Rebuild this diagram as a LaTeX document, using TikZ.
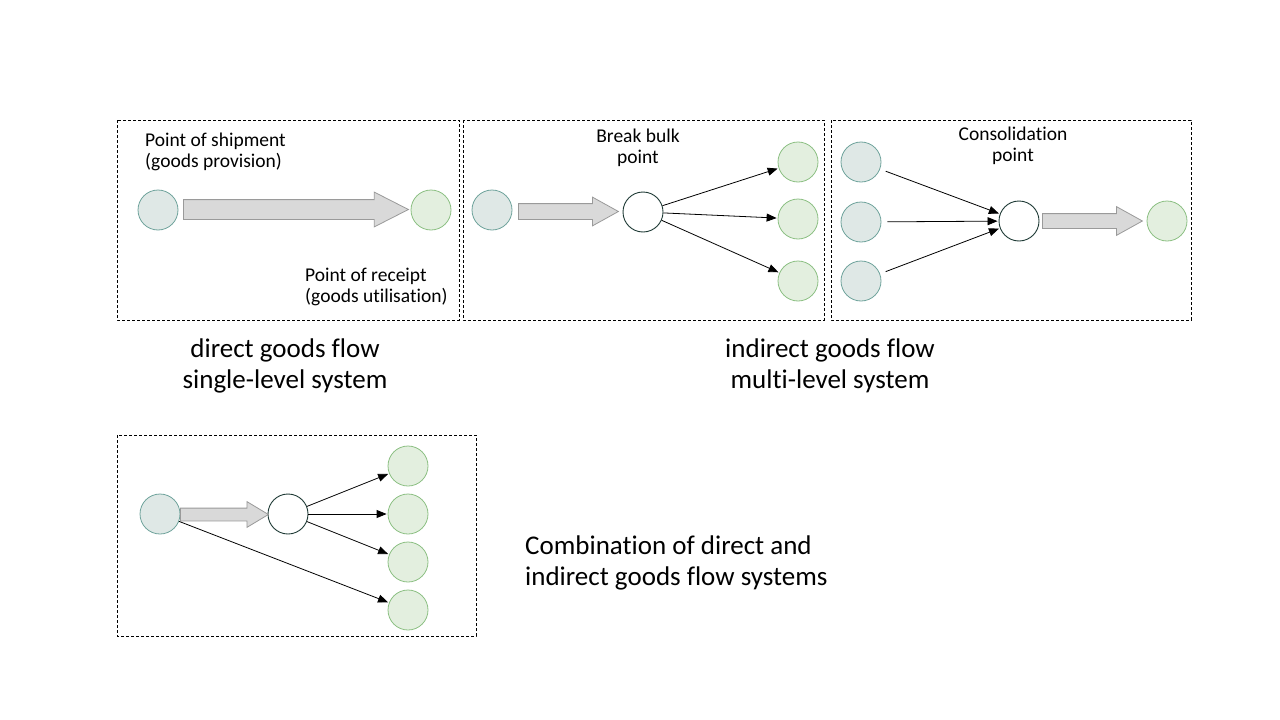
\documentclass[tikz,border=0pt]{standalone}
\usepackage{fontspec}
\setmainfont{Carlito}[Ligatures={NoCommon}]
\usetikzlibrary{shapes.arrows,arrows.meta,calc}
\definecolor{srcfill}{HTML}{DFE8E6}
\definecolor{srcline}{HTML}{6FA39C}
\definecolor{tgtfill}{HTML}{E3EFDF}
\definecolor{tgtline}{HTML}{8CC083}
\definecolor{hubline}{HTML}{1E3A35}
\definecolor{arrfill}{HTML}{D9D9D9}
\definecolor{arrline}{HTML}{9A9A9A}
\tikzset{
  frame/.style={draw=black, dash pattern=on 3pt off 2pt, line width=0.8pt},
  src/.style={circle, draw=srcline, fill=srcfill, minimum size=40pt, inner sep=0pt, line width=0.8pt},
  tgt/.style={circle, draw=tgtline, fill=tgtfill, minimum size=40pt, inner sep=0pt, line width=0.8pt},
  hub/.style={circle, draw=hubline, fill=white, minimum size=40pt, inner sep=0pt, line width=0.9pt},
  bigarr/.style={single arrow, draw=arrline, fill=arrfill, inner sep=0pt, line width=0.8pt, anchor=tail},
  thin/.style={-{Triangle[length=10pt,width=8pt]}, line width=0.8pt, shorten >=1pt},
  small/.style={font=\fontsize{19.5}{21}\selectfont, align=left, inner sep=0pt},
  smallc/.style={font=\fontsize{19.5}{21}\selectfont, align=center, inner sep=0pt},
  big/.style={font=\fontsize{27}{31}\selectfont, align=center, inner sep=0pt},
  bigl/.style={font=\fontsize{27}{31}\selectfont, align=left, inner sep=0pt},
}
\begin{document}
\begin{tikzpicture}[x=1pt,y=-1pt]
\useasboundingbox[fill=white] (0,0) rectangle (1280,720);
% frames
\draw[frame] (117,120) rectangle (459,320);
\draw[frame] (463,120) rectangle (824,320);
\draw[frame] (831,120) rectangle (1191,320);
\draw[frame] (117,435) rectangle (476,636);

% ---- box 1: direct
\node[src] (s1) at (158,210) {};
\node[tgt] (t1) at (431,210) {};
\node[bigarr, minimum height=225pt, inner ysep=9.5pt, single arrow head extend=7.5pt, single arrow tip angle=54] (a1) at (183,209.5) {};
\node[small, anchor=west] (l1) at (145,151.5) {Point of shipment\\(goods provision)};
\node[small, anchor=west] (l2) at (305,286.5) {Point of receipt\\(goods utilisation)};

% ---- box 2: break bulk
\node[src] (s2) at (492,210) {};
\node[hub] (h2) at (643,212) {};
\node[tgt] (t2a) at (798,162) {};
\node[tgt] (t2b) at (798,219) {};
\node[tgt] (t2c) at (798,281) {};
\node[bigarr, minimum height=100pt, inner ysep=7.5pt, single arrow head extend=6.5pt, single arrow tip angle=58] (a2) at (518,211.5) {};
\draw[thin] (h2) -- (t2a);
\draw[thin] (h2) -- (t2b);
\draw[thin] (h2) -- (t2c);
\node[smallc] (l3) at (638,148) {Break bulk\\point};

% ---- box 3: consolidation
\node[src] (s3a) at (861,162) {};
\node[src] (s3b) at (861,222) {};
\node[src] (s3c) at (861,281) {};
\node[hub] (h3) at (1019,221) {};
\node[tgt] (t3) at (1167,221) {};
\node[bigarr, minimum height=100pt, inner ysep=7pt, single arrow head extend=7pt, single arrow tip angle=58] (a3) at (1042,221) {};
\draw[thin, shorten <=6pt] (s3a) -- (h3);
\draw[thin, shorten <=6pt] (s3b) -- (h3);
\draw[thin, shorten <=6pt] (s3c) -- (h3);
\node[smallc] (l4) at (1013,146) {Consolidation\\point};

% ---- box 4: combination
\node[src] (s4) at (160,514) {};
\node[hub] (h4) at (288,514) {};
\node[tgt] (t4a) at (408,466) {};
\node[tgt] (t4b) at (408,514) {};
\node[tgt] (t4c) at (408,562) {};
\node[tgt] (t4d) at (408,610) {};
\node[bigarr, minimum height=88pt, inner ysep=6pt, single arrow head extend=6.5pt, single arrow tip angle=62] (a4) at (180,514.5) {};
\draw[thin] (h4) -- (t4a);
\draw[thin] (h4) -- (t4b);
\draw[thin] (h4) -- (t4c);
\draw[thin] (s4) -- (t4d);

% ---- captions
\node[big] (c1) at (285,365.5) {direct goods flow\\single-level system};
\node[big] (c2) at (830,365.5) {indirect goods flow\\multi-level system};
\node[bigl, anchor=west] (c3) at (525,562.5) {Combination of direct and\\indirect goods flow systems};
\end{tikzpicture}
\end{document}
